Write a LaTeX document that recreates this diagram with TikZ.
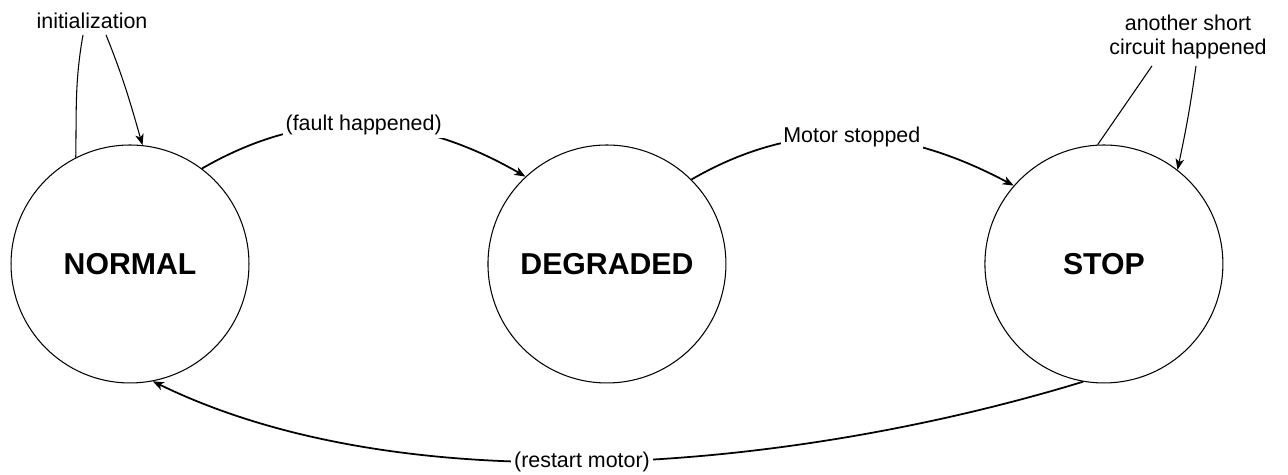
\documentclass[tikz,border=0pt]{standalone}
\usepackage{fontspec}
\setmainfont{Liberation Sans}
\usetikzlibrary{positioning, arrows.meta}

\begin{document}
\begin{tikzpicture}[
  x=0.02cm, y=0.02cm,
  every node/.style={font=\fontsize{12.2}{13.8}\selectfont},
  state/.style={draw, circle, line width=0.6pt, minimum size=4.76cm, inner sep=0pt, font=\fontsize{17.2}{20}\selectfont\bfseries},
  lbl/.style={fill=white, inner sep=1.5pt},
  looplbl/.style={align=center, inner sep=3.5pt},
  arrow/.style={-{Stealth[length=2.2mm,width=1.7mm,inset=0.6mm]}, line width=1pt},
  thinarrow/.style={-{Stealth[length=2.2mm,width=1.7mm,inset=0.6mm]}, line width=0.6pt}
]
\useasboundingbox (0,0) rectangle (1288,475);

% the three states
\node[state] (normal) at (130,211) {NORMAL};
\node[state, right=4.76cm of normal] (degraded) {DEGRADED};
\node[state, right=5.16cm of degraded] (stop) {STOP};

% labels of the two self loops
\node[looplbl] (lblinit) at (92,454.5) {initialization};
\node[looplbl] (lblshort) at (1188,437.7) {another short\\circuit happened};

\draw[line width=0.6pt] (normal.117) to[out=89,in=-100] ([xshift=-0.18cm]lblinit.south);
\draw[thinarrow] ([xshift=0.28cm]lblinit.south) to[out=-68,in=106] (normal.84);

\draw[arrow] (normal.53) to[out=30,in=150] node[lbl] (lblfault) {(fault happened)} (degraded.133);
\draw[arrow] (degraded.45) to[out=30,in=152] node[lbl] (lblmotor) {Motor stopped} (stop.139);

\draw[line width=0.6pt] (stop.93) -- ([xshift=-0.72cm]lblshort.south);
\draw[thinarrow] ([xshift=0.16cm]lblshort.south) to[out=-98,in=78] (stop.52);

% way back
\draw[arrow] (stop.260) to[out=197,in=-26,looseness=0.8] node[lbl,pos=.53] (lblrestart) {(restart motor)} (normal.281);
\end{tikzpicture}
\end{document}
